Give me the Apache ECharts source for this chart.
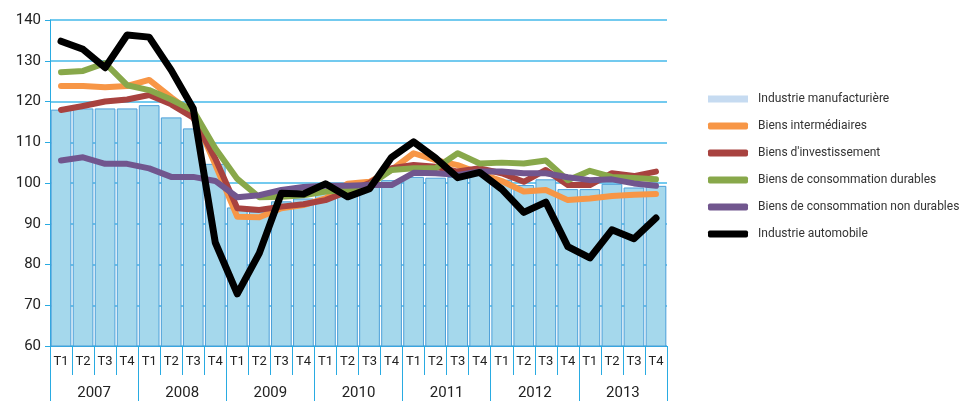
<!DOCTYPE html>
<html>
<head>
<meta charset="utf-8">
<script src="https://cdn.jsdelivr.net/npm/echarts@6/dist/echarts.min.js"></script>
<style>html,body{margin:0;padding:0;background:#fff}#c{width:964px;height:401px}</style>
</head>
<body>
<div id="c"></div>
<script>
var quarters = ['T1','T2','T3','T4','T1','T2','T3','T4','T1','T2','T3','T4','T1','T2','T3','T4','T1','T2','T3','T4','T1','T2','T3','T4','T1','T2','T3','T4'];
var years = ['2007','2008','2009','2010','2011','2012','2013'];
var yTicks = [60, 70, 80, 90, 100, 110, 120, 130, 140];

var manufacturiere = [118, 118.3, 118.3, 118.3, 119.1, 116.1, 113.4, 104.7, 94, 93, 95.5, 96.2, 97.5, 98.8, 99.8, 100.7, 101.5, 101.3, 101.5, 102, 100.8, 99.5, 100.9, 98.5, 98.5, 99.8, 98.9, 99.3];
var intermediaires = [123.8, 123.8, 123.5, 123.8, 125.3, 121, 117, 104.5, 91.7, 91.6, 93.8, 94.6, 96.2, 99.8, 100.3, 103.2, 107.3, 105.6, 104.4, 102.4, 100.5, 97.9, 98.3, 95.8, 96.2, 96.8, 97.1, 97.3];
var investissement = [117.9, 118.9, 120, 120.5, 121.6, 119.3, 116, 106, 93.8, 93.4, 94.2, 94.8, 95.8, 97.9, 100, 103.6, 104.4, 104, 102.8, 103.6, 102.4, 100.3, 103.2, 99.5, 99.5, 102.4, 101.7, 102.8];
var durables = [127.2, 127.5, 129.4, 124, 122.8, 120.5, 117.8, 108.5, 101, 96.5, 96.6, 97, 97.9, 98.3, 99.5, 103.2, 103.6, 103.6, 107.3, 104.8, 105, 104.8, 105.5, 100.7, 103, 101.5, 101.2, 100.9];
var nonDurables = [105.5, 106.3, 104.7, 104.7, 103.6, 101.5, 101.5, 100.5, 96.5, 97, 98.3, 99, 99.3, 99.3, 99.5, 99.5, 102.5, 102.4, 102, 102.8, 102.8, 102.4, 102.4, 101.4, 100.7, 100.9, 99.9, 99.3];
var automobile = [134.8, 132.8, 128.3, 136.3, 135.8, 127.7, 118.3, 85.4, 72.8, 82.8, 97.5, 97.3, 99.8, 96.6, 98.6, 106.3, 110.1, 106.1, 101.3, 102.6, 98.5, 92.8, 95.3, 84.4, 81.6, 88.5, 86.3, 91.4];

var names = ['Industrie manufacturière','Biens intermédiaires',"Biens d'investissement",'Biens de consommation durables','Biens de consommation non durables','Industrie automobile'];
var blue = '#29abe2';
var font = 'Roboto';

function line(name, data, color, w) {
  return {
    name: name, type: 'line', data: data, symbol: 'none', smooth: false,
    lineStyle: { color: color, width: w, cap: 'round', join: 'round' },
    itemStyle: { color: color }, z: 3
  };
}

var chart = echarts.init(document.getElementById('c'), null, { renderer: 'canvas' });
chart.setOption({
  animation: false,
  textStyle: { fontFamily: font },
  grid: { left: 50, right: 297, top: 20, bottom: 55, containLabel: false },
  legend: {
    orient: 'vertical', left: 703, top: 87, itemWidth: 40, itemHeight: 7, itemGap: 13,
    icon: 'roundRect',
    textStyle: { fontFamily: font, fontSize: 12, color: '#333', lineHeight: 14, padding: [0, 0, 0, 5] },
    data: [
      { name: names[0], icon: 'rect', itemStyle: { color: '#c6dbf1', borderWidth: 0 } },
      { name: names[1] }, { name: names[2] }, { name: names[3] }, { name: names[4] }, { name: names[5] }
    ]
  },
  xAxis: [
    {
      type: 'category', data: quarters, position: 'bottom',
      axisLine: { show: true, lineStyle: { color: blue, width: 1 } },
      axisTick: { show: true, interval: 0, length: 29, lineStyle: { color: blue } },
      axisLabel: { interval: 0, color: '#222', fontSize: 13, margin: 9, fontFamily: font },
      splitLine: { show: false }
    },
    {
      type: 'category', data: years, position: 'bottom', offset: 29,
      axisLine: { show: false },
      axisTick: { show: true, interval: 0, length: 27, lineStyle: { color: blue } },
      axisLabel: { interval: 0, color: '#222', fontSize: 15, margin: 11, fontFamily: font },
      splitLine: { show: false }
    }
  ],
  yAxis: {
    type: 'value', min: yTicks[0], max: yTicks[yTicks.length - 1], interval: 10,
    axisLine: { show: true, lineStyle: { color: blue, width: 1 } },
    axisTick: { show: true, inside: false, length: 5, lineStyle: { color: blue } },
    axisLabel: { color: '#222', fontSize: 15, margin: 9, fontFamily: font },
    splitLine: { show: true, lineStyle: { color: '#45b9ea', width: 1.5 } }
  },
  series: [
    {
      name: names[0], type: 'bar', data: manufacturiere, xAxisIndex: 0,
      barCategoryGap: '6%',
      itemStyle: { color: '#a5d8ec', borderColor: '#4b9fd9', borderWidth: 1 }, z: 2
    },
    line(names[1], intermediaires, '#f79646', 6),
    line(names[2], investissement, '#a8423f', 6),
    line(names[3], durables, '#88a84a', 6),
    line(names[4], nonDurables, '#71568e', 6),
    line(names[5], automobile, '#000000', 7)
  ]
});
</script>
</body>
</html>
